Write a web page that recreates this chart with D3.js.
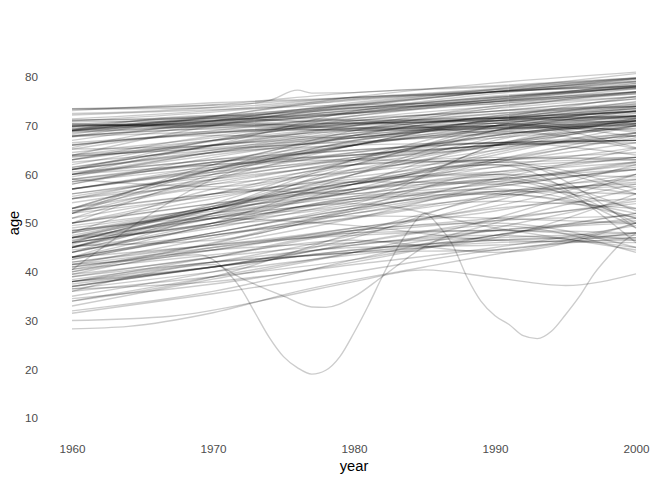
<!DOCTYPE html>
<html>
<head>
<meta charset="utf-8">
<script src="https://cdn.jsdelivr.net/npm/d3@7"></script>
<style>
  body { margin: 0; background: #fff; }
  text { font-family: "Liberation Sans", Arial, sans-serif; }
</style>
</head>
<body>
<svg id="chart" width="672" height="480"></svg>
<script>
// life expectancy by country at 1960/70/80/90/2000
var years = [1960, 1970, 1980, 1990, 2000];

var lifeExp = [
  [73.5, 74.2, 75.8, 76.9, 78.7], [73.1, 74.7, 75.8, 77.6, 79.7], [73.4, 73.7, 75.8, 77.0, 78.1],
  [73.4, 74.3, 76.8, 78.0, 79.8], [72.2, 73.3, 74.3, 74.9, 76.9], [71.4, 73.1, 75.5, 77.4, 79.8],
  [70.8, 71.0, 74.3, 77.0, 79.6], [71.2, 71.5, 73.1, 75.4, 78.7], [71.0, 72.8, 75.2, 77.3, 79.2],
  [71.1, 71.9, 73.7, 75.8, 77.8], [69.9, 70.8, 73.7, 75.2, 76.9], [70.2, 72.0, 74.2, 77.0, 79.1],
  [69.8, 71.0, 73.1, 76.1, 77.8], [69.3, 70.6, 72.7, 75.3, 78.0], [68.6, 70.1, 72.6, 75.6, 78.3],
  [69.1, 71.5, 74.0, 77.0, 79.6], [69.1, 72.0, 75.4, 76.9, 79.0], [69.0, 71.6, 73.5, 76.6, 79.0],
  [67.8, 71.9, 75.9, 78.8, 81.0], [69.9, 71.2, 72.6, 74.9, 76.5], [68.8, 70.2, 73.3, 74.9, 77.6],
  [68.9, 71.8, 74.3, 77.0, 78.2], [70.4, 69.6, 70.3, 71.5, 75.0], [70.4, 69.9, 70.6, 71.1, 73.2],
  [67.9, 69.3, 69.1, 69.4, 71.3], [67.7, 70.0, 70.5, 71.0, 73.8], [69.3, 71.2, 71.1, 71.6, 71.7],
  [65.2, 68.6, 69.3, 69.7, 71.2], [66.1, 68.0, 67.5, 68.9, 65.3], [68.3, 70.8, 69.6, 70.5, 67.7],
  [69.1, 72.1, 71.2, 71.0, 68.6], [70.1, 70.1, 69.0, 69.3, 70.3], [69.8, 71.6, 70.5, 71.5, 72.0],
  [69.5, 70.4, 69.4, 69.9, 70.5], [69.0, 70.3, 72.5, 75.4, 78.0], [63.0, 66.8, 71.4, 74.0, 76.6],
  [69.0, 71.0, 72.8, 75.8, 78.3], [69.0, 71.0, 74.8, 77.0, 78.0], [67.8, 68.8, 70.2, 72.4, 74.8],
  [65.2, 66.0, 69.3, 71.8, 73.9], [57.0, 62.0, 69.0, 73.6, 77.0], [61.5, 66.1, 73.0, 75.9, 77.6],
  [63.9, 70.0, 73.7, 74.5, 76.8], [63.0, 67.9, 70.5, 71.7, 72.7], [63.7, 65.5, 67.6, 69.6, 69.3],
  [62.0, 67.0, 71.0, 73.0, 74.0], [63.5, 66.0, 68.0, 71.0, 72.0], [61.4, 65.8, 70.0, 74.0, 75.9],
  [57.0, 61.4, 66.8, 71.3, 74.4], [59.5, 64.6, 68.5, 71.4, 72.9], [57.0, 61.0, 66.2, 68.6, 71.7],
  [54.2, 58.5, 62.6, 66.4, 70.4], [48.3, 53.5, 60.0, 66.1, 71.5], [53.0, 58.0, 63.0, 69.0, 73.0],
  [63.8, 65.3, 66.7, 68.3, 70.5], [42.0, 45.6, 51.0, 57.8, 62.4], [45.7, 51.9, 56.5, 62.5, 68.0],
  [46.3, 53.0, 60.0, 67.5, 70.3], [47.1, 53.4, 58.6, 65.0, 71.0], [51.0, 57.0, 56.0, 65.8, 70.0],
  [53.0, 59.0, 63.5, 68.0, 71.0], [42.6, 47.5, 51.2, 55.7, 58.4], [60.0, 62.0, 63.0, 62.5, 63.5],
  [60.0, 63.0, 65.0, 66.5, 67.0], [61.0, 65.0, 69.0, 71.5, 70.5], [56.0, 60.0, 63.5, 66.0, 67.0],
  [40.0, 45.8, 52.0, 55.3, 58.9], [50.0, 54.0, 58.0, 61.5, 63.0], [48.0, 53.0, 58.0, 63.0, 67.5],
  [50.0, 55.0, 60.5, 65.0, 68.0], [61.0, 64.5, 67.5, 69.5, 70.0], [50.0, 54.0, 57.0, 59.0, 62.0],
  [57.0, 61.0, 64.0, 66.0, 67.0], [40.4, 59.0, 66.0, 69.0, 72.0], [43.0, 48.0, 53.6, 58.5, 62.6],
  [44.0, 52.0, 58.0, 62.5, 66.5], [45.0, 51.0, 56.5, 60.5, 63.5], [45.4, 46.5, 52.6, 59.0, 65.3],
  [38.0, 42.0, 47.5, 54.5, 62.0], [33.0, 38.5, 44.0, 51.0, 60.0], [39.5, 45.0, 48.5, 51.0, 54.0],
  [44.0, 50.0, 55.0, 57.5, 61.5], [55.0, 60.5, 66.0, 71.0, 71.5], [59.0, 57.5, 62.0, 70.0, 73.0],
  [43.0, 45.5, 49.0, 53.5, 60.0], [61.0, 66.0, 69.5, 71.5, 73.5], [59.0, 62.0, 64.0, 66.0, 68.5],
  [66.0, 69.0, 72.0, 75.0, 78.0], [53.0, 61.0, 66.0, 71.5, 76.0], [50.0, 60.0, 67.0, 70.5, 65.5],
  [46.0, 53.0, 57.0, 60.0, 63.5], [60.0, 64.5, 68.0, 70.0, 71.0], [45.0, 51.0, 54.0, 66.0, 71.0],
  [48.0, 57.0, 62.0, 66.0, 70.0], [52.0, 59.0, 66.0, 71.0, 73.5], [53.0, 61.0, 66.0, 70.0, 72.0],
  [64.0, 66.0, 68.5, 71.0, 74.0], [45.0, 53.0, 63.0, 70.0, 73.0], [60.0, 66.0, 70.0, 72.5, 74.0],
  [52.0, 62.0, 68.0, 72.0, 74.5], [43.0, 50.0, 60.0, 69.0, 73.5], [34.0, 39.0, 48.0, 55.5, 60.0],
  [45.0, 52.0, 58.0, 64.0, 70.0], [63.0, 67.0, 69.5, 70.0, 72.0], [65.5, 70.0, 71.0, 68.5, 71.0],
  [61.0, 64.5, 66.0, 66.5, 67.0], [58.0, 62.5, 64.0, 66.5, 64.0], [57.0, 60.5, 63.0, 66.0, 66.5],
  [55.0, 59.0, 62.0, 63.5, 63.0], [55.0, 58.0, 60.5, 63.0, 63.5], [59.0, 62.5, 65.0, 66.5, 67.0],
  [61.0, 67.0, 72.0, 75.0, 77.0], [52.0, 61.0, 68.0, 72.0, 74.0], [67.0, 71.0, 74.5, 77.5, 80.7],
  [47.0, 51.0, 56.5, 63.0, 68.5], [46.0, 54.0, 63.0, 68.0, 71.0], [43.0, 52.0, 62.0, 69.0, 73.0],
  [47.0, 50.0, 58.0, 67.0, 71.0], [47.0, 51.5, 57.0, 64.5, 68.5], [48.5, 52.0, 55.5, 58.0, 61.0],
  [38.4, 42.0, 44.0, 47.5, 52.0], [37.0, 41.0, 44.0, 44.5, 50.0], [47.0, 53.0, 58.5, 60.0, 52.5],
  [45.0, 51.0, 49.5, 46.5, 46.0], [46.0, 49.5, 51.5, 51.0, 50.0], [41.0, 44.5, 48.0, 48.5, 46.5],
  [42.0, 45.5, 47.5, 48.5, 48.0], [47.0, 53.0, 58.5, 58.0, 53.0], [41.5, 47.0, 52.5, 56.0, 52.0],
  [38.0, 43.0, 48.5, 50.0, 45.0], [41.0, 44.5, 46.0, 47.0, 48.0], [36.5, 38.0, 41.5, 45.0, 49.5],
  [38.0, 41.0, 44.5, 46.5, 47.0], [34.0, 39.0, 44.0, 48.5, 50.5], [38.0, 41.0, 47.0, 56.0, 59.0],
  [34.5, 37.5, 42.0, 47.5, 52.0], [36.0, 39.0, 42.5, 47.5, 51.0], [40.5, 43.5, 46.5, 44.0, 50.0],
  [44.0, 49.5, 55.0, 56.0, 51.0], [46.0, 50.0, 53.5, 56.5, 58.0], [42.5, 48.0, 53.0, 56.5, 56.0],
  [39.5, 43.0, 48.5, 53.0, 55.0], [44.0, 49.5, 55.0, 59.0, 61.0], [40.5, 46.0, 53.0, 60.0, 59.5],
  [37.0, 41.0, 45.5, 48.5, 50.0], [37.5, 41.0, 44.5, 46.5, 47.5], [46.5, 51.0, 54.0, 49.0, 44.5],
  [52.0, 55.5, 59.5, 62.0, 46.0], [37.0, 41.0, 45.5, 47.5, 45.0], [38.0, 42.0, 45.0, 45.5, 48.0],
  [51.0, 56.0, 61.0, 63.0, 49.0], [47.5, 53.0, 58.5, 62.0, 56.0], [52.5, 56.0, 58.0, 62.5, 57.0],
  [46.0, 50.0, 55.5, 59.5, 50.0], [45.0, 49.0, 54.5, 59.0, 49.0], [40.0, 44.5, 49.0, 52.5, 58.0],
  [58.5, 62.5, 66.0, 69.5, 72.0], [43.0, 48.0, 53.0, 57.5, 61.0], [49.0, 53.5, 61.0, 66.0, 70.0],
  [43.0, 47.5, 52.0, 56.5, 57.5], [39.0, 42.0, 44.0, 47.0, 56.0], [50.0, 56.0, 62.0, 63.0, 64.5],
  [60.0, 64.0, 67.5, 70.5, 72.0], [32.0, 36.0, 42.5, 49.0, 55.0], [35.0, 40.0, 46.0, 50.5, 54.5],
  [31.5, 35.5, 40.0, 44.5, 47.0], [48.0, 52.5, 57.0, 61.5, 65.5], [55.5, 60.0, 64.5, 68.0, 71.5],
  [64.5, 67.5, 70.5, 73.0, 75.5], [66.5, 68.5, 71.0, 73.5, 76.0], [58.0, 63.5, 67.5, 70.0, 72.5],
  [70.0, 70.5, 72.5, 74.5, 77.0], [68.0, 69.5, 71.5, 73.0, 75.5], [66.0, 68.5, 70.0, 71.5, 73.0],
  [62.5, 65.0, 67.0, 70.5, 73.0], [60.5, 63.0, 66.5, 69.0, 71.0], [58.5, 61.5, 64.5, 67.5, 69.5],
  [64.0, 67.0, 69.0, 70.0, 69.0], [56.0, 59.5, 63.0, 65.5, 68.0], [52.5, 56.0, 59.0, 60.5, 62.5],
  [49.5, 53.0, 56.0, 58.5, 56.0], [44.5, 47.5, 51.0, 54.5, 53.0], [41.5, 45.0, 48.0, 50.5, 51.5],
  [36.5, 40.0, 43.5, 46.0, 46.5], [39.0, 43.0, 46.0, 49.5, 44.0], [48.5, 51.5, 54.5, 57.0, 51.0]
];

// countries that need yearly detail
var dipYears = [1960, 1965, 1969, 1970, 1971, 1972, 1973, 1974, 1975, 1976, 1977, 1978, 1979,
  1980, 1981, 1982, 1983, 1984, 1985, 1986, 1987, 1988, 1989, 1990, 1991, 1992, 1993, 1994,
  1995, 1996, 1997, 1998, 1999, 2000];
var dipAge = [41.5, 42.5, 43.5, 42.5, 40.0, 36.5, 31.5, 26.5, 22.6, 20.3, 19.0, 19.8, 22.6,
  27.5, 33.0, 39.0, 44.5, 49.0, 52.0, 49.5, 45.5, 39.0, 34.0, 31.0, 29.2, 26.9, 26.3, 27.8,
  31.2, 35.0, 39.5, 43.0, 46.0, 47.9];

var shallowYears = [1960, 1965, 1970, 1972, 1975, 1977, 1978, 1980, 1982, 1985, 1990, 2000];
var shallowAge = [36.0, 39.5, 41.5, 38.7, 35.0, 32.8, 32.7, 34.9, 39.0, 45.2, 50.0, 57.0];

var slowYears = [1960, 1967, 1975, 1980, 1985, 1990, 1995, 2000];
var slowAge = [30.0, 30.9, 35.0, 38.0, 40.4, 38.8, 37.2, 39.6];

var lowYears = [1960, 1964, 1970, 1976, 1985, 1995, 2000];
var lowAge = [28.3, 28.8, 31.6, 36.0, 41.0, 46.0, 48.0];

var peakYears = [1960, 1970, 1974, 1976, 1977, 1980, 1983, 1990, 2000];
var peakAge = [72.5, 73.8, 75.2, 77.3, 76.7, 76.8, 77.3, 78.2, 79.8];

var xTicks = [1960, 1970, 1980, 1990, 2000];
var yTicks = [10, 20, 30, 40, 50, 60, 70, 80];

var svg = d3.select("#chart");

var x = d3.scaleLinear().domain([1960, 2000]).range([72, 636]);
var y = d3.scaleLinear().domain([10, 80]).range([418, 77]);

var series = lifeExp.map(function(row) {
  return row.map(function(v, i) { return [years[i], v]; });
});
[[dipYears, dipAge], [shallowYears, shallowAge], [slowYears, slowAge],
 [lowYears, lowAge], [peakYears, peakAge]].forEach(function(p) {
  series.push(p[0].map(function(yr, i) { return [yr, p[1][i]]; }));
});

var line = d3.line()
  .x(function(d) { return x(d[0]); })
  .y(function(d) { return y(d[1]); })
  .curve(d3.curveMonotoneX);

svg.append("g")
  .selectAll("path")
  .data(series)
  .join("path")
    .attr("d", line)
    .attr("fill", "none")
    .attr("stroke", "#000")
    .attr("stroke-opacity", 0.2)
    .attr("stroke-width", 1.4);

var xAxis = svg.append("g")
  .attr("transform", "translate(0,438)")
  .call(d3.axisBottom(x).tickValues(xTicks).tickFormat(d3.format("d")).tickSize(0).tickPadding(7));
var yAxis = svg.append("g")
  .attr("transform", "translate(44,0)")
  .call(d3.axisLeft(y).tickValues(yTicks).tickSize(0).tickPadding(6));

[xAxis, yAxis].forEach(function(a) {
  a.select(".domain").remove();
  a.selectAll("text")
    .attr("fill", "#4d4d4d")
    .style("font-size", "11.7px")
    .style("font-family", "'Liberation Sans', Arial, sans-serif");
});

svg.append("text")
  .attr("x", 354).attr("y", 471)
  .attr("text-anchor", "middle")
  .style("font-size", "14.7px")
  .text("year");

svg.append("text")
  .attr("transform", "translate(19,223) rotate(-90)")
  .attr("text-anchor", "middle")
  .style("font-size", "14.7px")
  .text("age");
</script>
</body>
</html>
